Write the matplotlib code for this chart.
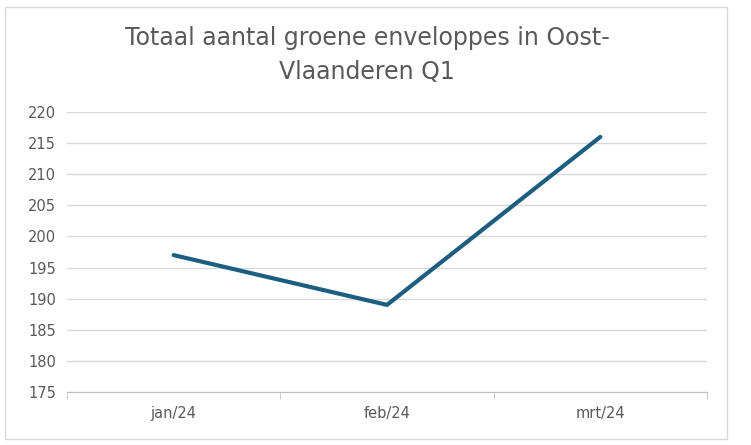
import matplotlib.pyplot as plt
from matplotlib.patches import Rectangle

months = ['jan/24', 'feb/24', 'mrt/24']
counts = [197, 189, 216]
yticks = list(range(175, 221, 5))

fig = plt.figure(figsize=(7.51, 4.45), dpi=100)
fig.patches.append(Rectangle((5/751, 6/445), 722/751, 432/445, transform=fig.transFigure,
                             fill=False, edgecolor='#d9d9d9', linewidth=1))
ax = fig.add_axes([67/751, 1-392/445, 640/751, 280/445])

ax.plot(range(len(months)), counts, color='#1b5e80', linewidth=3, solid_capstyle='round')

ax.set_xlim(-0.5, 2.5)
ax.set_ylim(175, 220)
ax.set_yticks(yticks)
ax.set_xticks(range(len(months)))
ax.set_xticklabels(months)
ax.set_xticks([-0.5, 0.5, 1.5, 2.5], minor=True)
ax.tick_params(axis='x', which='major', length=0, pad=10, labelsize=10.5, labelcolor='#595959')
ax.tick_params(axis='x', which='minor', length=5, color='#bfbfbf')
ax.tick_params(axis='y', length=0, pad=8, labelsize=10.5, labelcolor='#595959')
ax.grid(axis='y', color='#d9d9d9', linewidth=1)
ax.set_axisbelow(True)
for s in ['top', 'right', 'left']:
    ax.spines[s].set_visible(False)
ax.spines['bottom'].set_color('#bfbfbf')

fig.text(367/751, 1-55/445, 'Totaal aantal groene enveloppes in Oost-\nVlaanderen Q1',
         ha='center', va='center', fontsize=17, color='#595959', linespacing=1.55)

fig.savefig('out.png', dpi=100)
